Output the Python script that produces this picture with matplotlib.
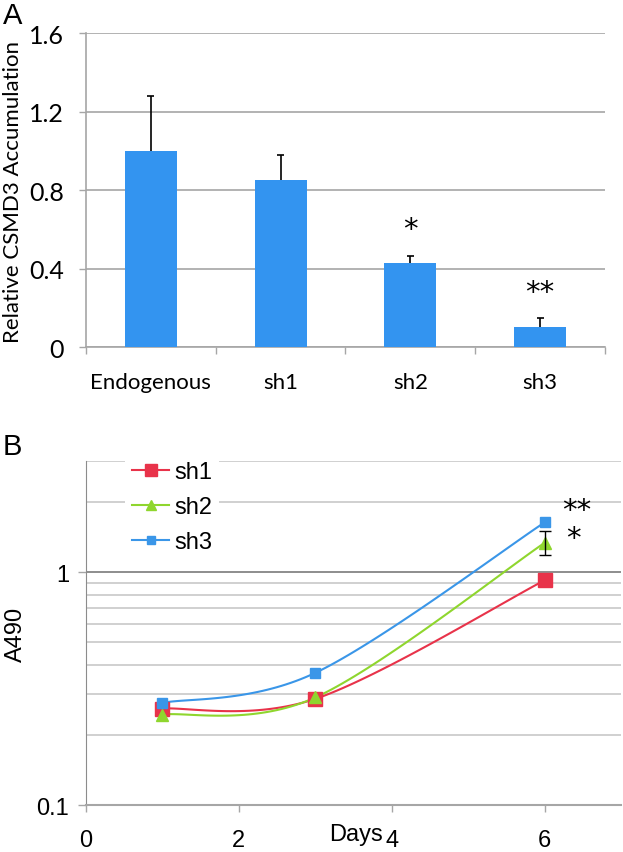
import numpy as np
import matplotlib
matplotlib.use("Agg")
import matplotlib.pyplot as plt
from matplotlib.ticker import FixedLocator, NullFormatter, FixedFormatter

# ---- data: panel A ----
categories = ["Endogenous", "sh1", "sh2", "sh3"]
accum = [1.0, 0.85, 0.43, 0.10]
accum_err = [0.28, 0.13, 0.035, 0.05]
accum_stars = ["", "", "*", "**"]
star_y = [0, 0, 0.60, 0.28]

# ---- data: panel B ----
days = [1, 3, 6]
sh1 = [0.26, 0.286, 0.925]
sh2 = [0.245, 0.29, 1.34]
sh3 = [0.275, 0.37, 1.64]
sh2_err_day6 = (1.19, 1.51)
series_names = ["sh1", "sh2", "sh3"]

BAR = "#3394f0"
RED = "#e8334a"
GREEN = "#8fd62e"
BLUE = "#3a96e8"
GRID = "#a6a6a6"


def smooth(x, y, n=40):
    # Excel style smoothed line (Catmull-Rom bezier) in x / log10(y)
    P = np.column_stack([np.asarray(x, float), np.log10(y)])
    out = []
    for i in range(len(P) - 1):
        p0 = P[i - 1] if i > 0 else P[i]
        p1, p2 = P[i], P[i + 1]
        p3 = P[i + 2] if i + 2 < len(P) else P[i + 1]
        c1 = p1 + (p2 - p0) / 6
        c2 = p2 - (p3 - p1) / 6
        t = np.linspace(0, 1, n)[:, None]
        seg = ((1 - t) ** 3) * p1 + 3 * ((1 - t) ** 2) * t * c1 + 3 * (1 - t) * t ** 2 * c2 + t ** 3 * p2
        out.append(seg)
    s = np.vstack(out)
    return s[:, 0], 10 ** s[:, 1]


fig = plt.figure(figsize=(6.23, 8.53), dpi=100)

# ================= Panel A =================
ax = fig.add_axes([0.138, 0.592, 0.833, 0.368])
xpos = np.arange(len(categories))
tops = np.array(accum) + np.array(accum_err)
ax.bar(xpos, accum, width=0.4, color=BAR, zorder=3)
# upper-only error bars
ax.vlines(xpos, accum, tops, color="black", lw=1.2, zorder=2)
ax.hlines(tops, xpos - 0.027, xpos + 0.027, color="black", lw=1.2, zorder=2)
for xi, s, sy in zip(xpos, accum_stars, star_y):
    if s:
        ax.text(xi, sy, s, ha="center", va="center", fontsize=21, family="DejaVu Sans")
ax.set_xlim(-0.5, 3.5)
ax.set_ylim(0, 1.6)
ax.set_yticks([0, 0.4, 0.8, 1.2, 1.6])
ax.set_yticklabels(["0", "0.4", "0.8", "1.2", "1.6"], family="Lato", fontsize=18)
ax.set_xticks(xpos)
ax.set_xticklabels(categories, family="Lato", fontsize=16)
ax.xaxis.set_minor_locator(FixedLocator([-0.5, 0.5, 1.5, 2.5, 3.5]))
ax.tick_params(axis="x", which="major", length=0, pad=18)
ax.tick_params(axis="x", which="minor", length=5, color=GRID, width=1)
ax.tick_params(axis="y", length=5, color=GRID, width=1, pad=11)
ax.yaxis.grid(True, color=GRID, lw=1.2, zorder=0)
ax.set_axisbelow(True)
for sp in ["top", "right"]:
    ax.spines[sp].set_visible(False)
for sp in ["left", "bottom"]:
    ax.spines[sp].set_color(GRID)
    ax.spines[sp].set_linewidth(1.2)
fig.text(0.021, 0.775, "Relative CSMD3 Accumulation", family="Lato", fontsize=16,
         rotation=90, ha="center", va="center")
fig.text(0.005, 0.998, "A", family="Liberation Sans", fontsize=21, va="top", ha="left")

# ================= Panel B =================
bx = fig.add_axes([0.138, 0.055, 0.859, 0.403])
bx.set_yscale("log")
bx.set_ylim(0.1, 3)
bx.set_xlim(0, 7)
grid_vals = [0.2, 0.3, 0.4, 0.5, 0.6, 0.7, 0.8, 0.9, 2, 3]
for g in grid_vals:
    bx.axhline(g, color="#c8c8c8", lw=1.2, zorder=0)
bx.axhline(1, color="#7a7a7a", lw=1.2, zorder=0)

colors = [RED, GREEN, BLUE]
markers = ["s", "^", "s"]
msizes = [10, 8, 7]
for name, vals, c, m, ms in zip(series_names, [sh1, sh2, sh3], colors, markers, msizes):
    xs, ys = smooth(days, vals)
    bx.plot(xs, ys, color=c, lw=1.5, zorder=3)
    bx.plot(days, vals, ls="none", marker=m, ms=ms, color=c, zorder=4)
    bx.plot([], [], color=c, lw=1.5, marker=m, ms=ms * 0.85, label=name)

bx.errorbar([days[-1]], [sh2[-1]], yerr=[[sh2[-1] - sh2_err_day6[0]], [sh2_err_day6[1] - sh2[-1]]],
            fmt="none", ecolor="black", elinewidth=1, capsize=4, capthick=1, zorder=5)
bx.text(6.42, 1.86, "**", ha="center", va="center", fontsize=21, family="DejaVu Sans")
bx.text(6.38, 1.40, "*", ha="center", va="center", fontsize=21, family="DejaVu Sans")

bx.yaxis.set_major_locator(FixedLocator([0.1, 1]))
bx.yaxis.set_major_formatter(FixedFormatter(["0.1", "1"]))
bx.yaxis.set_minor_locator(FixedLocator([]))
bx.yaxis.set_minor_formatter(NullFormatter())
bx.set_xticks([0, 2, 4, 6])
bx.set_xticklabels(["0", "2", "4", "6"], family="Liberation Sans", fontsize=17)
for lab in bx.get_yticklabels():
    lab.set_family("Liberation Sans")
    lab.set_fontsize(17)
bx.tick_params(axis="x", length=5, color=GRID, width=1, pad=12)
bx.tick_params(axis="y", length=6, color=GRID, width=1, pad=6)
for sp in ["top", "right"]:
    bx.spines[sp].set_visible(False)
bx.spines["left"].set_color("#8c8c8c")
bx.spines["bottom"].set_color(GRID)
bx.spines["bottom"].set_linewidth(1.5)
fig.text(0.025, 0.256, "A490", family="Liberation Sans", fontsize=17,
         rotation=90, ha="center", va="center")
bx.text(3.53, -0.052, "Days", transform=bx.get_xaxis_transform(), ha="center", va="top",
        family="Liberation Sans", fontsize=17)
leg = bx.legend(loc="upper left", bbox_to_anchor=(0.05, 1.055), frameon=True, fancybox=False,
                edgecolor="none", facecolor="white", framealpha=1,
                prop={"family": "Liberation Sans", "size": 17},
                handlelength=1.6, handletextpad=0.2, labelspacing=0.55, borderpad=0.3)
leg.set_zorder(6)
fig.text(0.005, 0.492, "B", family="Liberation Sans", fontsize=21, va="top", ha="left")

fig.savefig("out.png", dpi=100)
